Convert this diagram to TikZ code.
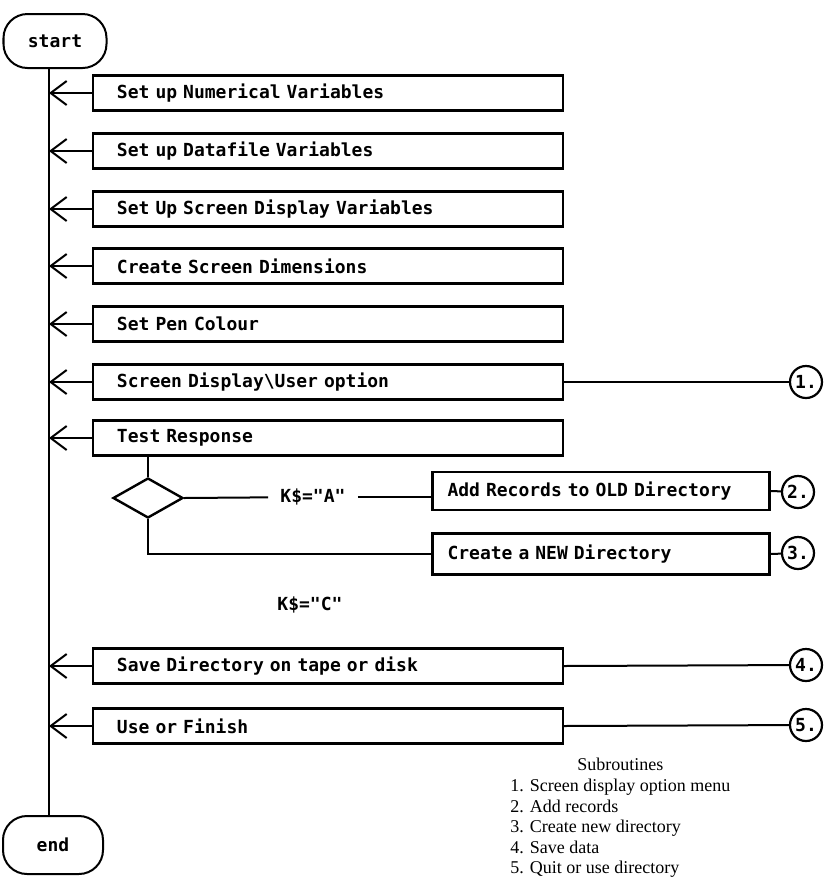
\documentclass[tikz,border=0pt]{standalone}
\usepackage{fontspec}
\usepackage{tikz}
\usetikzlibrary{arrows.meta,shapes.geometric}
\newfontfamily\flowfamily{DejaVu Sans Mono}
\newfontfamily\notefamily{Liberation Serif}
\newcommand{\flowfont}{\flowfamily\bfseries\fontsize{9pt}{10pt}\selectfont}

\begin{document}
\begin{tikzpicture}[x=0.5pt, y=-0.5pt,
  terminal/.style={draw, line width=1pt, rounded corners=12pt, minimum width=51.5pt, minimum height=27pt, font=\flowfont},
  stepbox/.style={draw, line width=1.2pt, minimum height=17.5pt, text width=211pt, inner xsep=12pt, align=left, font=\flowfont},
  subbox/.style={draw, line width=1.2pt, minimum height=19pt, text width=153.5pt, inner xsep=7.5pt, align=left, font=\flowfont},
  subnum/.style={draw, circle, line width=1.1pt, minimum size=16pt, inner sep=0pt, font=\flowfont},
  decision/.style={draw, diamond, line width=1.2pt, minimum width=35pt, minimum height=20pt, inner sep=0pt},
  link/.style={line width=1pt},
  feed/.style={link, -{Straight Barb[length=8pt,width=12pt]}}]
\useasboundingbox (0,0) rectangle (824,891);
\coordinate (trunk) at (49,0);

\node[terminal] (start) at (55,41) {start};
\node[terminal, minimum width=50pt, minimum height=29pt] (end) at (53,845) {end};

% main steps
\foreach \n/\y/\txt in {r1/93/Set up Numerical Variables, r2/151/Set up Datafile Variables,
    r3/209/Set Up Screen Display Variables, r4/266/Create Screen Dimensions,
    r5/324/Set Pen Colour, r6/382/Screen Display\textbackslash User option,
    r7/438/Test Response, save/666/Save Directory on tape or disk, use/726/Use or Finish}
  \node[stepbox] (\n) at (328,\y) {\txt};

\draw[link] (start.south -| trunk) -- (end.north -| trunk);
\foreach \n in {r1,r2,r3,r4,r5,r6,r7,save,use}
  \draw[feed] (\n.west) -- (\n.west -| trunk);

% test response
\node[decision] (ask) at (148,498) {};
\node[font=\flowfont, inner xsep=6pt] (ka) at (313,497) {K\$="A"};
\node[font=\flowfont] (kc) at (310,605) {K\$="C"};
\node[subbox] (add) at (601,491) {Add Records to OLD Directory};
\node[subbox, minimum height=20.5pt] (create) at (601,554) {Create a NEW Directory};

\draw[link] (r7.south -| ask.north) -- (ask.north);
\draw[link] (ask.east) -- (ka);
\draw[link] (ka) -- (ka -| add.west);
\draw[link] (ask.south) |- (create.west);

% subroutine calls
\node[subnum] (s1) at (806,382) {1.};
\node[subnum] (s2) at (798,492) {2.};
\node[subnum] (s3) at (798,553) {3.};
\node[subnum] (s4) at (806,665) {4.};
\node[subnum] (s5) at (806,725) {5.};
\draw[link] (r6.east) -- (s1);
\draw[link] (add.east) -- (s2);
\draw[link] (create.east) -- (s3);
\draw[link] (save.east) -- (s4);
\draw[link] (use.east) -- (s5);

\node[anchor=north west, inner sep=0pt, font=\notefamily\fontsize{9pt}{10.3pt}\selectfont] (legend) at (510,756)
  {\begin{tabular}{@{}l@{}}
   \multicolumn{1}{@{}c@{}}{Subroutines}\\
   1. Screen display option menu\\
   2. Add records\\
   3. Create new directory\\
   4. Save data\\
   5. Quit or use directory
   \end{tabular}};
\end{tikzpicture}
\end{document}
